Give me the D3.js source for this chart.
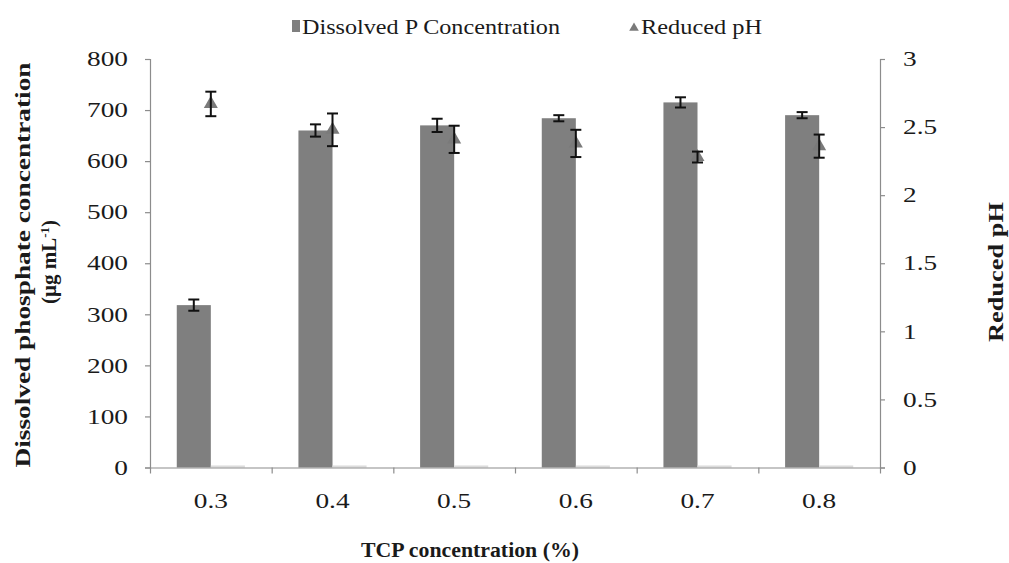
<!DOCTYPE html>
<html>
<head>
<meta charset="utf-8">
<script src="https://cdn.jsdelivr.net/npm/d3@7"></script>
<style>
  body { margin: 0; background: #fff; }
  svg text { font-family: "Liberation Serif", "Times New Roman", serif; fill: #1a1a1a; }
</style>
</head>
<body>
<div id="chart"></div>
<script>
// values
var categories = ["0.3", "0.4", "0.5", "0.6", "0.7", "0.8"];
var dissolvedP = [318, 660, 670, 684, 715, 690];
var dissolvedPErr = [11, 12, 13, 6, 10, 6];
var reducedPH = [2.67, 2.48, 2.41, 2.38, 2.28, 2.36];
var reducedPHErr = [0.09, 0.12, 0.10, 0.10, 0.04, 0.085];
var hiddenBars = [4, 4, 4, 4, 4, 4];
var leftTicks = [0, 100, 200, 300, 400, 500, 600, 700, 800];
var rightTicks = [0, 0.5, 1, 1.5, 2, 2.5, 3];

(function() {
var W = 1009, H = 563;
var mLeft = 150, mRight = 880, mTop = 59, mBottom = 467.5;
var barColor = "#7f7f7f", axisColor = "#8c8c8c";

var svg = d3.select("#chart").append("svg")
    .attr("width", W).attr("height", H);
svg.append("rect").attr("width", W).attr("height", H).attr("fill", "#fff");

var x = d3.scaleBand().domain(categories).range([mLeft, mRight]);
var yL = d3.scaleLinear().domain([0, 800]).range([mBottom, mTop]);
var yR = d3.scaleLinear().domain([0, 3]).range([mBottom, mTop]);
var barW = x.bandwidth() * 0.28;

// stretch text horizontally, the source image is wider than the font
function stretch(sel, f) {
  sel.each(function() {
    var w = this.getComputedTextLength();
    d3.select(this).attr("textLength", w * f).attr("lengthAdjust", "spacingAndGlyphs");
  });
}
function fitTo(sel, len) {
  sel.attr("textLength", len).attr("lengthAdjust", "spacingAndGlyphs");
}

// bars
svg.selectAll("rect.bar").data(dissolvedP).enter().append("rect")
    .attr("class", "bar")
    .attr("x", function(d, i) { return x(categories[i]) + x.bandwidth() / 2 - barW; })
    .attr("y", function(d) { return yL(d); })
    .attr("width", barW)
    .attr("height", function(d) { return mBottom - yL(d); })
    .attr("fill", barColor);

svg.selectAll("rect.hid").data(hiddenBars).enter().append("rect")
    .attr("class", "hid")
    .attr("x", function(d, i) { return x(categories[i]) + x.bandwidth() / 2; })
    .attr("y", function(d) { return yL(d); })
    .attr("width", barW)
    .attr("height", function(d) { return mBottom - yL(d); })
    .attr("fill", "#dcdcdc");

// axes
var gL = svg.append("g").attr("transform", "translate(" + mLeft + ",0)")
    .call(d3.axisLeft(yL).tickValues(leftTicks).tickSize(5).tickPadding(17));
var gR = svg.append("g").attr("transform", "translate(" + mRight + ",0)")
    .call(d3.axisRight(yR).tickValues(rightTicks).tickFormat(d3.format("")).tickSize(5).tickPadding(18));
var gX = svg.append("g").attr("transform", "translate(0," + mBottom + ")")
    .call(d3.axisBottom(x).tickSize(0).tickPadding(26));
var xb = d3.scaleLinear().domain([0, categories.length]).range([mLeft, mRight]);
var gXT = svg.append("g").attr("transform", "translate(0," + mBottom + ")")
    .call(d3.axisBottom(xb).ticks(categories.length).tickFormat("").tickSize(6).tickSizeOuter(0));
gX.select(".domain").remove();

[gL, gR, gXT].forEach(function(g) {
  g.selectAll("path, line").attr("stroke", axisColor).attr("stroke-width", 1.2);
});
[gL, gR, gX].forEach(function(g) {
  g.selectAll("text").style("font-size", "21px")
      .style("font-family", "'Liberation Serif', serif").attr("fill", "#1a1a1a");
  g.selectAll("text").call(stretch, 1.3);
});

// error bars
function errBar(g, cx, y0, y1) {
  g.append("line").attr("x1", cx).attr("x2", cx).attr("y1", y0).attr("y2", y1);
  g.append("line").attr("x1", cx - 5.5).attr("x2", cx + 5.5).attr("y1", y0).attr("y2", y0);
  g.append("line").attr("x1", cx - 5.5).attr("x2", cx + 5.5).attr("y1", y1).attr("y2", y1);
}
var eg = svg.append("g").attr("stroke", "#111").attr("stroke-width", 2);
dissolvedP.forEach(function(v, i) {
  var cx = x(categories[i]) + x.bandwidth() / 2 - barW / 2;
  errBar(eg, cx, yL(v + dissolvedPErr[i]), yL(v - dissolvedPErr[i]));
});

// pH triangles
var tri = d3.symbol().type(d3.symbolTriangle).size(85);
svg.selectAll("path.ph").data(reducedPH).enter().append("path")
    .attr("class", "ph")
    .attr("d", tri)
    .attr("transform", function(d, i) {
      return "translate(" + (x(categories[i]) + x.bandwidth() / 2) + "," + yR(d) + ")";
    })
    .attr("fill", "#7a7a7a");
var pg = svg.append("g").attr("stroke", "#111").attr("stroke-width", 2);
reducedPH.forEach(function(v, i) {
  var cx = x(categories[i]) + x.bandwidth() / 2;
  errBar(pg, cx, yR(v + reducedPHErr[i]), yR(v - reducedPHErr[i]));
});

// legend
svg.append("rect").attr("x", 292).attr("y", 20).attr("width", 8).attr("height", 12).attr("fill", barColor);
svg.append("text").attr("x", 302).attr("y", 34).style("font-size", "21px")
    .text("Dissolved P Concentration").call(fitTo, 258);
svg.append("path").attr("d", d3.symbol().type(d3.symbolTriangle).size(40))
    .attr("transform", "translate(634,28)").attr("fill", "#7a7a7a");
svg.append("text").attr("x", 641).attr("y", 34).style("font-size", "21px")
    .text("Reduced pH").call(fitTo, 121);

// axis titles
svg.append("text").attr("x", 470).attr("y", 557).attr("text-anchor", "middle")
    .style("font-size", "20px").style("font-weight", "bold")
    .text("TCP concentration (%)").call(fitTo, 218);

svg.append("text").attr("transform", "translate(30,265) rotate(-90)")
    .attr("text-anchor", "middle").style("font-size", "21px").style("font-weight", "bold")
    .text("Dissolved phosphate concentration").call(fitTo, 405);

var lt2 = svg.append("text").attr("transform", "translate(56,262) rotate(-90)")
    .attr("text-anchor", "middle").style("font-size", "21px").style("font-weight", "bold");
lt2.append("tspan").text("(\u00b5g mL");
lt2.append("tspan").attr("dy", -7).style("font-size", "13px").text("-1");
lt2.append("tspan").attr("dy", 7).text(")");

svg.append("text").attr("transform", "translate(1003,272) rotate(-90)")
    .attr("text-anchor", "middle").style("font-size", "21px").style("font-weight", "bold")
    .text("Reduced pH").call(fitTo, 140);
})();
</script>
</body>
</html>
